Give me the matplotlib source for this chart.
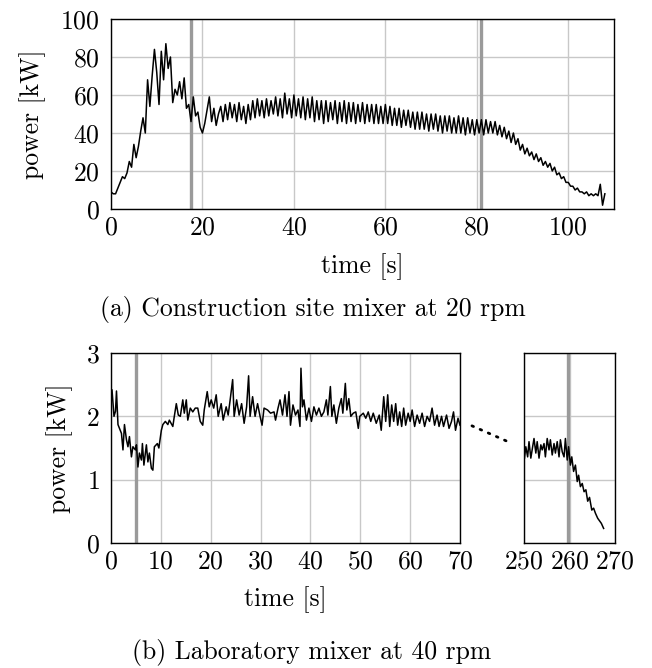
import numpy as np
import matplotlib
matplotlib.use('Agg')
import matplotlib.pyplot as plt

plt.rcParams['font.family'] = 'serif'
plt.rcParams['font.serif'] = ['cmr10', 'DejaVu Serif']
plt.rcParams['mathtext.fontset'] = 'cm'
plt.rcParams['axes.formatter.use_mathtext'] = True
plt.rcParams['font.size'] = 18.5

# (a) construction site mixer, sampled every 0.5 s
step_a = 0.5
power_a = [
    9, 8, 8, 11, 14, 17, 16, 19, 25, 22, 34, 27, 33, 41, 48, 40, 68, 54, 70, 84,
    72, 55, 83, 68, 87, 74, 80, 56, 63, 60, 67, 58, 69, 53, 55, 46, 59, 49, 51, 43,
    40, 45, 52, 59, 46, 53, 44, 50, 54, 46, 55, 47, 56, 48, 55, 46, 56, 47, 54, 45,
    55, 47, 57, 48, 58, 49, 57, 48, 58, 49, 57, 50, 59, 49, 58, 48, 61, 50, 58, 48,
    60, 49, 58, 48, 59, 47, 58, 48, 59, 46, 57, 47, 57, 45, 57, 46, 56, 47, 57, 45,
    56, 46, 57, 45, 56, 46, 56, 45, 55, 46, 56, 45, 55, 46, 55, 45, 55, 45, 54, 45,
    55, 45, 54, 44, 53, 44, 53, 43, 52, 44, 52, 43, 51, 42, 51, 42, 51, 42, 50, 41,
    50, 42, 50, 41, 49, 40, 49, 41, 49, 40, 48, 40, 49, 40, 48, 39, 48, 40, 47, 39,
    47, 40, 47, 39, 47, 40, 46, 40, 46, 39, 44, 38, 43, 37, 41, 35, 40, 34, 37, 31,
    34, 29, 32, 28, 30, 26, 29, 25, 27, 23, 25, 22, 24, 20, 22, 18, 19, 16, 17, 14,
    14, 12, 12, 10, 11, 9, 9, 8, 9, 7, 8, 7, 8, 7, 13, 2, 8,
]
time_a = np.arange(len(power_a)) * step_a
marks_a = [17.6, 81.0]

# (b) laboratory mixer, first part
time_b1 = [
    0.0, 0.2, 0.6, 0.9, 1.1, 1.4, 2.1, 2.4, 2.7, 3.1, 3.4, 3.7, 4.1, 4.4, 4.9, 5.1,
    5.4, 5.7, 6.1, 6.3, 6.6, 7.1, 7.4, 7.7, 8.1, 8.4, 8.7, 9.3, 9.6, 10.1, 10.4, 10.9,
    11.4, 11.7, 12.4, 12.7, 13.1, 13.5, 13.9, 14.4, 14.7, 15.1, 15.4, 15.9, 16.4, 16.9,
    17.4, 17.9, 18.4, 18.7, 19.3, 19.7, 20.1, 20.6, 21.1, 21.5, 22.1, 22.5, 23.1, 23.5,
    23.9, 24.4, 24.7, 25.2, 25.7, 26.2, 26.7, 27.2, 27.6, 27.9, 28.4, 28.9, 29.4, 29.9,
    30.3, 30.7, 31.4, 32.0, 32.7, 33.0, 33.5, 33.9, 34.4, 34.9, 35.3, 35.7, 36.0, 36.5,
    37.0, 37.5, 37.9, 38.1, 38.4, 38.7, 39.2, 39.7, 40.2, 40.7, 41.2, 41.7, 42.2, 42.7,
    43.2, 43.5, 44.0, 44.3, 44.7, 45.2, 45.7, 46.2, 46.5, 47.0, 47.3, 47.7, 48.1, 48.6,
    49.1, 49.6, 49.9, 50.6, 51.1, 51.6, 52.1, 52.6, 53.2, 53.8, 54.2, 54.7, 55.1, 55.5,
    55.9, 56.3, 56.7, 57.1, 57.5, 57.9, 58.3, 58.7, 59.1, 59.6, 60.0, 60.4, 60.9, 61.4,
    61.9, 62.4, 62.9, 63.4, 63.9, 64.4, 64.9, 65.4, 65.8, 66.3, 66.7, 67.3, 67.8, 68.3,
    68.7, 69.1, 69.6, 70.0,
]
power_b1 = [
    2.20, 2.42, 2.00, 2.08, 2.40, 1.87, 1.73, 1.47, 1.87, 1.63, 1.52, 1.68, 1.36, 1.52,
    1.47, 1.55, 1.20, 1.42, 1.31, 1.57, 1.23, 1.55, 1.28, 1.42, 1.18, 1.15, 1.52, 1.57,
    1.50, 1.78, 1.87, 1.92, 1.87, 1.94, 1.84, 2.00, 2.20, 2.02, 2.00, 2.26, 2.05, 2.26,
    1.94, 2.13, 2.07, 2.13, 2.13, 1.92, 1.86, 2.10, 2.39, 2.15, 2.26, 2.13, 2.34, 2.00,
    2.20, 1.94, 2.15, 2.02, 2.26, 2.58, 2.00, 2.26, 2.02, 2.20, 1.89, 2.15, 2.64, 2.00,
    2.31, 2.00, 2.20, 2.00, 1.86, 2.13, 2.10, 2.05, 2.07, 1.94, 2.13, 2.26, 2.02, 2.34,
    2.00, 2.39, 1.86, 2.18, 2.02, 2.10, 1.84, 2.76, 2.15, 2.26, 1.94, 2.13, 1.92, 2.15,
    2.02, 2.13, 2.00, 2.07, 2.26, 2.02, 2.47, 2.00, 2.18, 1.89, 2.13, 2.28, 2.05, 2.52,
    2.10, 2.28, 2.00, 2.05, 2.07, 1.81, 2.00, 2.05, 1.97, 2.07, 1.92, 2.05, 1.89, 2.02,
    1.78, 2.31, 1.92, 2.34, 1.84, 2.18, 1.92, 2.20, 1.86, 2.07, 1.84, 2.13, 1.86, 2.05,
    1.92, 2.10, 1.84, 2.02, 1.89, 2.05, 1.84, 2.00, 1.92, 2.13, 1.86, 2.02, 1.84, 2.00,
    1.84, 2.02, 1.81, 1.92, 2.07, 1.78, 1.97, 1.86,
]

# (b) laboratory mixer, end part
time_b2 = [
    250.1, 250.4, 250.8, 251.1, 251.5, 251.9, 252.2, 252.6, 252.9, 253.3, 253.7, 254.0,
    254.4, 254.7, 255.1, 255.5, 255.8, 256.2, 256.6, 256.9, 257.3, 257.7, 258.0, 258.4,
    258.8, 259.1, 259.5, 259.8, 260.2, 260.5, 260.9, 261.3, 261.7, 262.0, 262.4, 262.8,
    263.2, 263.6, 264.0, 264.4, 264.9, 265.3, 265.7, 266.2, 266.6, 267.0, 267.5,
]
power_b2 = [
    1.34, 1.52, 1.36, 1.60, 1.34, 1.52, 1.65, 1.42, 1.60, 1.34, 1.55, 1.47,
    1.57, 1.36, 1.65, 1.47, 1.63, 1.39, 1.57, 1.42, 1.60, 1.36, 1.63, 1.44,
    1.36, 1.65, 1.31, 1.52, 1.23, 1.36, 1.13, 1.23, 0.97, 1.07, 0.89, 0.94,
    0.81, 0.84, 0.66, 0.72, 0.52, 0.55, 0.47, 0.39, 0.35, 0.31, 0.23,
]
marks_b1 = [5.0]
marks_b2 = [259.7]

# dotted connector between the two parts (data coords of left axis)
gap_x = [72.4, 80.2]
gap_y = [1.85, 1.58]

fig = plt.figure(figsize=(6.52, 6.68), dpi=100)
W, H = 652, 668


def box(l, t, r, b):
    return [l / W, 1 - b / H, (r - l) / W, (b - t) / H]


ax_a = fig.add_axes(box(111, 19, 614, 209))
ax_b1 = fig.add_axes(box(111, 353, 460, 543))
ax_b2 = fig.add_axes(box(524, 353, 615, 543))

grid_c = '#c8c8c8'
mark_c = '#9a9a9a'

for ax in (ax_a, ax_b1, ax_b2):
    ax.grid(True, color=grid_c, lw=1.0)
    ax.set_axisbelow(True)
    ax.tick_params(length=0)
    ax.tick_params(axis='x', pad=5)
    ax.tick_params(axis='y', pad=8)
    for s in ax.spines.values():
        s.set_linewidth(1.0)

# top
for m in marks_a:
    ax_a.axvline(m, color=mark_c, lw=2.4, zorder=1.5)
ax_a.plot(time_a, power_a, color='black', lw=1.1, zorder=3)
ax_a.set_xlim(0, 110)
ax_a.set_ylim(0, 100)
ax_a.set_xticks([0, 20, 40, 60, 80, 100])
ax_a.set_yticks([0, 20, 40, 60, 80, 100])
ax_a.set_xlabel('time [s]', va='center')
ax_a.xaxis.set_label_coords(0.5, -0.305)
ax_a.set_ylabel('power [kW]', va='center')
ax_a.yaxis.set_label_coords(-0.155, 0.5)

# bottom left
for m in marks_b1:
    ax_b1.axvline(m, color=mark_c, lw=2.4, zorder=1.5)
ax_b1.plot(time_b1, power_b1, color='black', lw=1.1, zorder=3)
ax_b1.plot(gap_x, gap_y, color='black', lw=2.0, ls=(0, (0.6, 2.6)),
           dash_capstyle='round', clip_on=False)
ax_b1.set_xlim(0, 70)
ax_b1.set_ylim(0, 3)
ax_b1.set_xticks(range(0, 71, 10))
ax_b1.set_yticks([0, 1, 2, 3])
ax_b1.set_xlabel('time [s]', va='center')
ax_b1.xaxis.set_label_coords(0.5, -0.30)
ax_b1.set_ylabel('power [kW]', va='center')
ax_b1.yaxis.set_label_coords(-0.146, 0.5)

# bottom right
for m in marks_b2:
    ax_b2.axvline(m, color=mark_c, lw=2.4, zorder=1.5)
ax_b2.plot(time_b2, power_b2, color='black', lw=1.1, zorder=3)
ax_b2.set_xlim(250, 270)
ax_b2.set_ylim(0, 3)
ax_b2.set_xticks([250, 260, 270])
ax_b2.set_yticks([0, 1, 2, 3])
ax_b2.set_yticklabels([])

fig.text(313 / W, 1 - 310 / H, '(a) Construction site mixer at 20 rpm',
         ha='center', va='center')
fig.text(312 / W, 1 - 652 / H, '(b) Laboratory mixer at 40 rpm',
         ha='center', va='center')

fig.savefig('out.png', dpi=100)
